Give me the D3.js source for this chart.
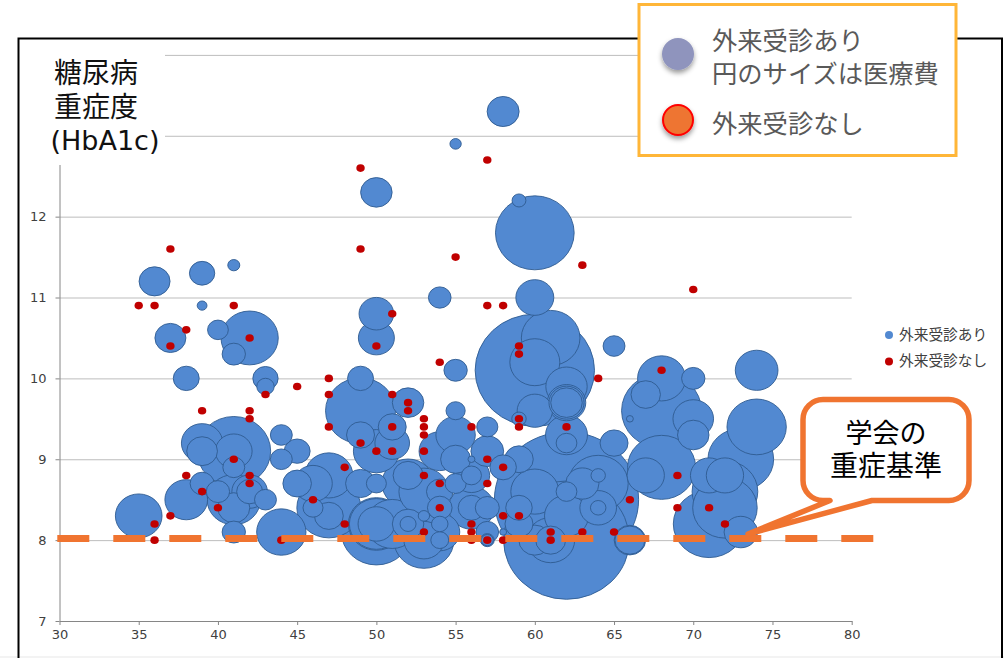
<!DOCTYPE html>
<html lang="ja">
<head>
<meta charset="utf-8">
<script src="https://cdn.jsdelivr.net/npm/d3@7"></script>
<style>
html,body{margin:0;padding:0;background:#fff}
svg{display:block}
text{font-family:"DejaVu Sans","Noto Sans CJK JP",sans-serif}
</style>
</head>
<body>
<svg id="chart" width="1004" height="658"></svg>
<script>
// Age of patients who visit the clinic, their HbA1c, and their medical cost (relative units)
const visitAge = [
  36,39,41,39,37,40,42,41,38,43,43,41,39,39,41,41,39,38,35,41,41,40,42,42,43,41,44,44,45,44,45,46,47,46,47,47,
  58,55,50,59,60,54,60,50,50,61,65,60,60,55,62,62,62,62,60,49,49,52,55,59,51,49,51,50,55,54,55,57,57,58,59,62,62,65,
  62,56,56,56,55,52,52,50,49,53,54,54,54,54,54,53,52,52,53,53,50,50,50,51,50,
  56,57,56,57,57,57,58,59,59,60,60,61,61,62,62,63,64,64,64,64,62,66,66,66,
  68,70,74,67,70,70,68,68,67,74,73,71,72,72,72,71,73
];
const visitHbA1c = [
  11.2,11.3,11.4,10.9,10.5,10.6,10.5,10.3,10,10,9.9,9.1,9.2,9.1,9.1,8.9,8.7,8.5,8.3,8.5,8.4,8.6,8.6,8.6,8.5,8.1,8.1,9.3,9.1,9,8.7,8.7,8.8,8.4,8.4,8.3,
  13.3,12.9,12.3,12.2,11.8,11,11,10.8,10.5,10.5,10.4,10.1,10.2,10.1,9.9,9.7,9.7,9.7,9.6,10,9.6,9.7,9.6,9.5,9.4,9.3,9.2,9.1,9.3,9.1,9,9.4,9.1,8.9,9,9.3,9.2,9.2,
  8,9,8.8,8.8,8.7,8.8,8.7,8.7,8.7,8.6,8.6,8.4,8.2,8,8.1,8.3,8.2,8.2,8,8,8.2,8.2,8.1,8.2,8.2,
  8.4,8.4,8.4,8.1,8,8,8.1,8.4,8.2,8.6,8,8,8,8.3,8.6,8.7,8.8,8.4,8.4,8.7,8.5,8,8,9.5,
  10,10,10.1,9.8,9.5,9.3,9.6,8.9,8.8,9.4,9,8.8,8.8,8.6,8.4,8.2,8.1
];
const visitCost = [
  6,4,0.9,0.6,6,2.7,20.5,3.4,4.2,4,1.9,34,10.7,5.9,8.4,3,3.6,11.4,13.6,17.8,6.4,3.4,7.9,4.2,3,3.4,15.2,3,4.2,3,5.1,9.3,14.4,2.5,25.6,5.2,
  6.4,0.8,6.2,1.2,38.7,3.2,9,7.5,8.1,21.5,3,89,15.6,3.4,10.7,9.3,7.7,6.2,7.8,4.2,30.6,6.2,2.3,1.3,4.9,4.9,7.5,13.2,9.7,10.7,5.6,2.8,6.7,4.4,5.1,11,2.7,4.9,
  99,0.3,2.5,8.3,2.8,5.6,17,2.5,5.6,15.6,4.4,3.8,1.7,2,10,0.8,1.6,6.2,22.5,10,8.4,18.2,30.6,17,19.6,
  4.4,3.6,13,3.2,0.9,1.2,0.3,4.4,4.9,14.4,6.4,5.6,14.4,12.1,2.7,6.9,1.3,8.4,1.5,22.5,130,6.2,5.6,0.3,
  14.4,3.4,11.4,5.4,10.3,6.2,40,29,8.7,22,27,8.7,8.7,27,26,32,7
];

// Patients without a clinic visit: age and HbA1c
const noVisitAge = [
  37,35,36,41,38,42,37,49,57,49,55,63,57,58,51,70,59,59,50,54,64,47,47,45,43,39,42,42,47,41,38,42,42,39,40,46,36,37,36,44,
  51,52,52,51,53,53,53,53,49,50,51,56,59,59,62,57,58,48,53,54,57,54,58,59,48,56,53,56,56,57,58,61,61,63,65,66,
  68,69,69,71,72
];
const noVisitHbA1c = [
  11.6,10.9,10.9,10.9,10.6,10.5,10.4,12.6,12.7,11.6,11.5,11.4,10.9,10.9,10.8,11.1,10.4,10.3,10.4,10.2,10,10,9.8,9.9,9.8,9.6,9.6,9.5,9.4,9,8.8,8.8,8.7,8.6,8.4,8.5,8.2,8.3,8,8,
  9.8,9.7,9.6,9.4,9.5,9.4,9.3,9.1,9.2,9.1,9.1,9.4,9.5,9.4,9.4,9,8.9,8.9,8.8,8.7,8.7,8.4,8.3,8.3,8.2,8.2,8.1,8.1,8,8,8,8.1,8,8.1,8.1,8.5,
  10.1,8.8,8.4,8.4,8.2
];

const ageTicks = [30,35,40,45,50,55,60,65,70,75,80];
const hba1cTicks = [7,8,9,10,11,12,13,14];
const severeThreshold = 8.02;
const titleLines = ["糖尿病","重症度","(HbA1c)"];
const keyLines = ["外来受診あり","円のサイズは医療費","外来受診なし"];
const chartKey = ["外来受診あり","外来受診なし"];
const calloutLines = ["学会の","重症基準"];

const blue = "#5289d1", blueEdge = "#2f5b91", red = "#c00000", orange = "#f07430";

const svg = d3.select("#chart");
const x = d3.scaleLinear().domain([30,80]).range([59.5,851.7]);
const y = d3.scaleLinear().domain([7,14]).range([621,54.9]);
const radius = d3.scaleSqrt().domain([0,150]).range([0,77.46]);

const defs = svg.append("defs");
defs.append("filter").attr("id","soft").attr("x","-40%").attr("y","-40%").attr("width","180%").attr("height","190%")
  .append("feDropShadow").attr("dx",0).attr("dy",3).attr("stdDeviation",2.5).attr("flood-color","#000").attr("flood-opacity",0.4);

// Outer frame of the slide panel, with the faint strip along its lower edge
svg.append("rect").attr("x",0).attr("y",656).attr("width",1004).attr("height",2).attr("fill","#f3f3f3");
svg.append("path").attr("d","M18.5 658V38.5H1002V658").attr("fill","none").attr("stroke","#000").attr("stroke-width",2);

// Gridlines
svg.append("g").selectAll("line").data(hba1cTicks.slice(1)).join("line")
  .attr("x1",x(30)).attr("x2",x(80)).attr("y1",d=>y(d)+.5).attr("y2",d=>y(d)+.5)
  .attr("stroke","#bdbdbd").attr("stroke-width",1);

// Axes
const axisStyle = g => {
  g.selectAll("path,line").attr("stroke","#868686");
  g.selectAll("text").attr("font-size",13).attr("fill","#404040");
};
svg.append("g").attr("transform",`translate(0,${y(7)})`)
  .call(d3.axisBottom(x).tickValues(ageTicks).tickSize(4).tickSizeOuter(0).tickPadding(5))
  .call(axisStyle);
svg.append("g").attr("transform",`translate(${x(30)},0)`)
  .call(d3.axisLeft(y).tickValues(hba1cTicks).tickFormat(d3.format("d")).tickSize(4).tickSizeOuter(0).tickPadding(9))
  .call(axisStyle);

// Bubbles: largest first so the small ones stay visible
const bubbles = d3.range(visitAge.length)
  .map(i => ({age:visitAge[i], a1c:visitHbA1c[i], cost:visitCost[i]}))
  .sort((a,b)=>d3.descending(a.cost,b.cost));
svg.append("g").selectAll("ellipse").data(bubbles).join("ellipse")
  .attr("cx",d=>x(d.age)).attr("cy",d=>y(d.a1c))
  .attr("rx",d=>radius(d.cost)).attr("ry",d=>radius(d.cost)*0.94)
  .attr("fill",blue).attr("stroke",blueEdge).attr("stroke-width",0.9);

svg.append("g").selectAll("ellipse").data(d3.range(noVisitAge.length)).join("ellipse")
  .attr("cx",i=>x(noVisitAge[i])).attr("cy",i=>y(noVisitHbA1c[i]))
  .attr("rx",4.2).attr("ry",3.8).attr("fill",red);

// Severity threshold
svg.append("line").attr("x1",57.3).attr("x2",873.3)
  .attr("y1",y(severeThreshold)).attr("y2",y(severeThreshold))
  .attr("stroke",orange).attr("stroke-width",7).attr("stroke-dasharray","32 24");

// Title block sits on a white panel over the top of the axis
svg.append("rect").attr("x",20).attr("y",40).attr("width",145).attr("height",125).attr("fill","#fff");
svg.append("g").selectAll("text").data(titleLines).join("text")
  .attr("x",(d,i)=>i<2?96:105).attr("y",(d,i)=>83+i*33.5).attr("text-anchor","middle")
  .attr("font-size",(d,i)=>i<2?28:27).attr("fill","#111").text(d=>d);

// Small chart key
const chartKeyRow = svg.append("g").selectAll("g").data(chartKey).join("g")
  .attr("transform",(d,i)=>`translate(889,${335+i*26.5})`);
chartKeyRow.append("circle").attr("r",4).attr("fill",(d,i)=>i?red:blue);
chartKeyRow.append("text").attr("x",10).attr("y",4.5).attr("font-size",14.7).attr("fill","#404040").text(d=>d);

// Explanatory key box
svg.append("rect").attr("x",639).attr("y",4.5).attr("width",317).attr("height",151)
  .attr("fill","#fff").attr("stroke","#ffb638").attr("stroke-width",3);
svg.append("circle").attr("cx",678).attr("cy",54).attr("r",16).attr("fill","#8f94bd").attr("filter","url(#soft)");
svg.append("circle").attr("cx",678).attr("cy",120).attr("r",15).attr("fill","#ee7530")
  .attr("stroke","#ff0000").attr("stroke-width",2).attr("filter","url(#soft)");
svg.append("g").selectAll("text").data(keyLines).join("text")
  .attr("x",712).attr("y",(d,i)=>[50,83,133][i]).attr("font-size",25.3).attr("fill","#595959").text(d=>d);

// Callout for the threshold
svg.append("path")
  .attr("d","M823 399.5H949A20 20 0 0 1 969 419.5V480.5A20 20 0 0 1 949 500.5H872L748 534L830 500.5H823A20 20 0 0 1 803 480.5V419.5A20 20 0 0 1 823 399.5Z")
  .attr("fill","#fff").attr("stroke",orange).attr("stroke-width",5.5).attr("stroke-linejoin","round");
svg.append("g").selectAll("text").data(calloutLines).join("text")
  .attr("x",886).attr("y",(d,i)=>[443,476][i]).attr("text-anchor","middle")
  .attr("font-size",(d,i)=>i?28:27).attr("fill","#000").text(d=>d);
</script>
</body>
</html>
